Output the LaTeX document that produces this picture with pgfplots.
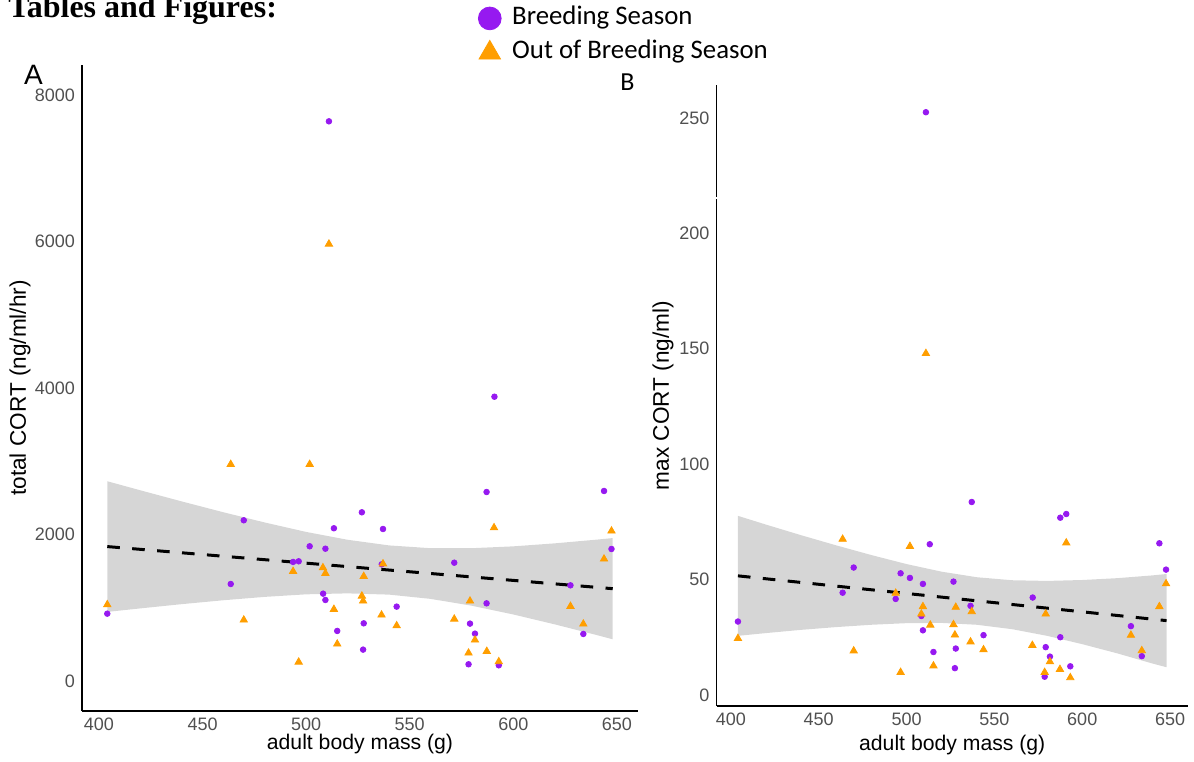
\documentclass[border=0pt]{standalone}
\usepackage{pgfplots}
\pgfplotsset{compat=1.18}
\usepackage{fontspec}
\setmainfont{Liberation Sans}
\newfontfamily\carlito{Carlito}
\newfontfamily\timesf{Liberation Serif}
\definecolor{ptpurple}{RGB}{150,25,240}
\definecolor{ptorange}{RGB}{255,158,0}
\definecolor{ticklab}{RGB}{80,80,80}
\definecolor{ribbon}{RGB}{153,153,153}

\pgfplotstableread{
x y
404.0 919
463.6 1324
469.9 2194
493.7 1625
496.4 1634
501.7 1839
508.2 1192
509.3 1806
509.3 1106
511.0 7641
513.4 2085
515.0 683
526.9 2303
527.5 428
527.8 787
536.5 1593
537.1 2075
543.7 1015
571.5 1615
578.4 228
579.1 783
581.5 646
587.1 2580
587.1 1060
590.9 3881
593.0 214
627.6 1306
633.8 642
643.8 2594
647.4 1802
}\Apurple

\pgfplotstableread{
x y
404.0 1042
463.6 2958
469.9 833
493.7 1497
496.4 259
501.7 2958
508.1 1547
509.3 1470
511.0 5966
513.4 979
515.0 505
526.9 1160
527.5 1092
527.8 1429
536.4 901
537.1 1600
543.7 755
571.5 846
578.4 382
579.1 1092
581.5 560
587.2 405
590.7 2093
593.0 264
627.6 1020
633.8 778
643.8 1666
647.4 2048
}\Aorange

\pgfplotstableread{
x y
404.0 31.8
463.6 44.3
469.9 55.2
493.8 41.6
496.6 52.7
501.9 50.7
508.4 34.2
509.3 48.1
509.3 28.0
511.0 252.5
513.2 65.3
515.3 18.6
526.7 49.1
527.5 11.6
528.0 20.1
536.4 38.6
537.1 83.6
543.8 25.9
571.8 42.2
578.6 7.9
579.2 20.7
581.6 16.6
587.5 76.8
587.5 25.0
590.9 78.4
593.2 12.4
627.7 29.8
633.9 16.8
643.9 65.7
647.7 54.3
}\Bpurple

\pgfplotstableread{
x y
404.0 24.5
463.6 67.5
469.9 19.1
493.8 44.1
496.6 9.8
501.9 64.4
508.4 35.1
509.3 38.3
511.0 148.0
513.5 30.3
515.3 12.6
526.7 30.5
527.5 26.0
528.0 38.0
536.4 23.0
537.1 36.1
543.8 19.6
571.6 21.5
578.6 9.8
579.2 35.1
581.6 14.4
587.3 11.1
590.9 65.9
593.2 7.5
627.7 25.9
633.9 19.2
643.9 38.3
647.7 48.2
}\Borange

\pgfplotsset{
  myaxis/.style={
    scale only axis,
    axis lines=left,
    axis line style={-, line width=0.8pt, black},
    major tick length=0pt,
    xmin=391.8, xmax=660.2,
    xtick={400,450,500,550,600,650},
    tick label style={font=\fontsize{9}{10}\selectfont, text=ticklab},
    /pgf/number format/assume math mode=true,
    /pgf/number format/1000 sep={},
    xlabel style={font=\fontsize{10.6}{12}\selectfont, anchor=center},
    ylabel style={font=\fontsize{11.3}{13}\selectfont, anchor=center},
  },
  purp/.style={only marks, mark=*, mark size=1.4pt, color=ptpurple, forget plot},
  oran/.style={only marks, mark=triangle*, mark size=2.1pt, color=ptorange, forget plot},
  band/.style={fill=ribbon, fill opacity=0.4, draw=none, forget plot},
  fit/.style={black, line width=1.5pt, dash pattern=on 6.3pt off 6.2pt, forget plot},
}

\begin{document}
\begin{tikzpicture}
\begin{axis}[myaxis,
  at={(41pt,25pt)}, anchor=south west,
  width=278pt, height=323pt,
  ymin=-410, ymax=8410,
  ytick={0,2000,4000,6000,8000},
  xlabel={adult body mass (g)},
  ylabel={total CORT (ng/ml/hr)},
  xlabel style={at={(axis description cs:0.5,-0.0511)}},
  ylabel style={at={(axis description cs:-0.1115,0.5)}},
  legend style={at={(axis description cs:0.7122,1.0913)}, anchor=north west,
    draw=none, fill=none, inner sep=0pt,
    font=\carlito\fontsize{13.4}{15}\selectfont,
    nodes={inner xsep=5.5pt, inner ysep=0pt, text height=9pt, text depth=3pt},
    row sep=5pt},
  legend cell align=left,
]
\addlegendimage{only marks, mark=*, mark size=5.7pt, color=ptpurple}
\addlegendentry{Breeding Season}
\addlegendimage{only marks, mark=triangle*, mark size=6.2pt, color=ptorange}
\addlegendentry{Out of Breeding Season}
\addplot[purp] table {\Apurple};
\addplot[oran] table {\Aorange};
\addplot[band] coordinates {
 (404,2727) (420,2603) (440,2451) (460,2304) (480,2164) (500,2035) (520,1928)
 (540,1851) (560,1813) (580,1813) (600,1838) (620,1879) (640,1929) (648,1951)
 (648,569) (640,629) (620,773) (600,908) (580,1027) (560,1121) (540,1179)
 (520,1196) (500,1183) (480,1148) (460,1102) (440,1049) (420,991) (404,943)
};
\addplot[fit] coordinates {(404,1835) (648,1260)};
\end{axis}

\begin{axis}[myaxis,
  at={(358.25pt,27.5pt)}, anchor=south west,
  width=235.75pt, height=310.5pt,
  ymin=-4.8, ymax=264.3,
  ytick={0,50,100,150,200,250},
  xlabel={adult body mass (g)},
  ylabel={max CORT (ng/ml)},
  xlabel style={at={(axis description cs:0.5,-0.0628)}},
  ylabel style={at={(axis description cs:-0.1135,0.5)}},
]
\addplot[purp] table {\Bpurple};
\addplot[oran] table {\Borange};
\addplot[band] coordinates {
 (404,77.6) (420,73.8) (440,69.2) (460,64.8) (480,60.6) (500,56.7) (520,53.4)
 (540,51.0) (560,49.7) (580,49.4) (600,49.8) (620,50.6) (640,51.8) (648,52.4)
 (648,12.0) (640,13.6) (620,18.0) (600,22.0) (580,25.6) (560,28.5) (540,30.4)
 (520,31.2) (500,31.1) (480,30.4) (460,29.4) (440,28.2) (420,26.8) (404,25.6)
};
\addplot[fit] coordinates {(404,51.6) (648,32.2)};
\end{axis}

\draw[white, line width=1.2pt] (356.5pt,281.5pt) -- (360pt,281.5pt);

\node[font=\fontsize{14}{16}\selectfont, inner sep=0pt] at (16.75pt,343pt) {A};
\node[font=\carlito\fontsize{13}{15}\selectfont, inner sep=0pt] at (313.75pt,339.5pt) {B};
\node[anchor=base west, inner sep=0pt, font=\timesf\bfseries\fontsize{16}{18}\selectfont] at (4pt,371.5pt) {Tables and Figures:};

\pgfresetboundingbox
\path[use as bounding box] (0pt,0pt) rectangle (597pt,380.5pt);
\end{tikzpicture}
\end{document}
